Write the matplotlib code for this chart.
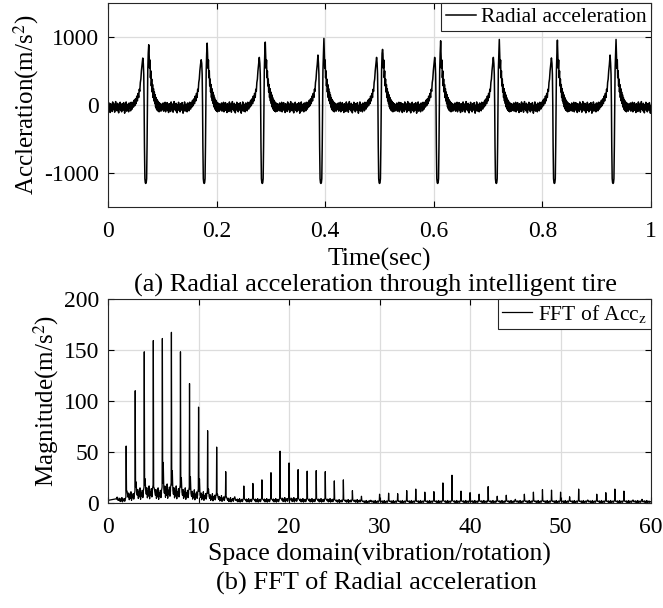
import numpy as np
import matplotlib.pyplot as plt

plt.rcParams['font.family'] = ['Liberation Serif', 'DejaVu Serif']
plt.rcParams['mathtext.fontset'] = 'stix'
plt.rcParams['axes.unicode_minus'] = False

# ---------------- datos (a): aceleracion radial ----------------
t_pulsos = [0.0694, 0.177, 0.284, 0.392, 0.500, 0.607, 0.715, 0.822, 0.930]
pico_previo = [688, 663, 698, 732, 698, 698, 698, 690, 732]
pico_post = [883, 907, 922, 976, 815, 941, 961, 951, 961]

forma_dt = [-0.0250, -0.0238, -0.0226, -0.0214, -0.0202, -0.0190, -0.0178, -0.0166,
            -0.0154, -0.0142, -0.0130, -0.0120, -0.0110, -0.0100, -0.0090, -0.0080,
            -0.0068, -0.0055, -0.0045, -0.0037, -0.0030, -0.0024, -0.0016, -0.0008,
            0.0, 0.0008, 0.0016, 0.0024, 0.0030, 0.0037, 0.0046, 0.0055,
            0.0062, 0.0070, 0.0078, 0.0086, 0.0094, 0.0102, 0.0110, 0.0118,
            0.0126, 0.0134, 0.0142, 0.0150, 0.0158, 0.0166, 0.0174, 0.0182,
            0.0190, 0.0198, 0.0206, 0.0214, 0.0222, 0.0230, 0.0238, 0.0246,
            0.0254, 0.0262, 0.0270, 0.0280, 0.0290, 0.0300]
forma_val = [-60, 40, -30, 70, -10, 90, 20, 130,
             60, 170, 110, 230, 200, 330, 380, 500,
             590, 'pre', 610, 450, 0, -600, -1080, -1140,
             -1150, -1140, -1080, -600, 0, 500, 760, 'post',
             760, 540, 660, 400, 500, 280, 380, 190,
             300, 110, 240, 60, 190, 20, 150, -30,
             110, -60, 80, -80, 60, -90, 40, -100,
             30, -80, 20, -90, 10, -70]

# ruido de fondo entre pulsos
ruido = [-30, 30, -90, 0, -60, 40, -100, -10, -50, 35, -80, -20, -110, 20, -45, -5,
         -95, 45, -25, -70, 15, -105, -20, 50, -65, -5, -85, 25, -40, -115, 5, -55,
         40, -80, -15, -100, 20, -35, -75, 35, -20, -120, -5, -60, 45, -90, -30, 10,
         -55, -100, 30, -45, -10, -85, 40, -40]

# ---------------- datos (b): FFT ----------------
armonicos = list(range(1, 60))
pico_fft = [4, 56, 110, 148, 159, 161, 167, 148, 117, 94,
            71, 55, 31, 6.5, 17, 19.5, 23, 30, 51, 39.5,
            33, 31.5, 32, 31, 22, 23, 12.5, 7, 2, 9,
            10, 9.5, 12.5, 14, 11, 11.5, 20, 27.5, 12, 10.5,
            9, 16.4, 7, 8, 4, 9, 11, 13.5, 13, 11,
            6.5, 14, 3.3, 9, 10.5, 14, 12, 3.3, 4]
lateral_fft = [3, 12, 21, 24, 15, 40, 32, 25, 26, 24,
               14, 9, 6, 3, 4, 4, 4, 4, 5, 5,
               4, 4, 4, 4, 3, 3, 2.5, 2, 1.5, 2,
               2, 2, 2, 2, 2, 2, 2.5, 2.5, 2, 2,
               2, 2, 2, 2, 1.5, 2, 2, 2, 2, 2,
               2, 2, 1.5, 2, 2, 2, 2, 1.5, 1.5]
fondo_fft = [3, 6, 8, 9, 8, 10, 9, 8, 7, 6,
             5, 4, 3, 2.5, 2.5, 2.5, 2.5, 2.5, 3, 3,
             2.5, 2.5, 2.5, 2.5, 2, 2, 2, 1.5, 1.5, 1.5,
             1.5, 1.5, 1.5, 1.5, 1.5, 1.5, 1.5, 1.5, 1.5, 1.5,
             1.5, 1.5, 1.5, 1.5, 1.5, 1.5, 1.5, 1.5, 1.5, 1.5,
             1.5, 1.5, 1.5, 1.5, 1.5, 1.5, 1.5, 1.5, 1.5]
# textura del fondo entre armonicos (factor sobre el fondo)
rizado = [1.0, 1.7, 0.6, 1.4, 0.8, 1.9, 0.5, 1.3, 0.9, 1.6, 0.7, 1.2]


def senal_tiempo():
    periodo = (t_pulsos[-1] - t_pulsos[0]) / (len(t_pulsos) - 1)
    tiempos = [t_pulsos[0] - periodo] + t_pulsos + [t_pulsos[-1] + periodo]
    t_total, a_total = [], []
    for k in range(1, len(tiempos)):
        # tramo de ruido
        t_ini = tiempos[k - 1] + 0.031
        t_fin = tiempos[k] - 0.026
        t_total += list(np.linspace(t_ini, t_fin, len(ruido)))
        a_total += ruido
        if k == len(tiempos) - 1:
            break
        i = k - 1
        for dt, v in zip(forma_dt, forma_val):
            if v == 'pre':
                v = pico_previo[i]
            elif v == 'post':
                v = pico_post[i]
            t_total.append(tiempos[k] + dt)
            a_total.append(v)
    return t_total, a_total


def espectro():
    x, y = [0.0], [fondo_fft[0]]
    for j, h in enumerate(armonicos):
        fondo_prev = fondo_fft[j - 1] if j > 0 else fondo_fft[0]
        x += [h - 0.1, h - 0.03, h, h + 0.04, h + 0.1, h + 0.16]
        y += [fondo_prev * 1.5, fondo_prev * 2, pico_fft[j],
              fondo_fft[j] * 2, lateral_fft[j], fondo_fft[j] * 1.4]
        # relleno rugoso hasta el siguiente armonico
        xs = np.linspace(h + 0.22, h + 0.9, len(rizado))
        x += list(xs)
        y += [fondo_fft[j] * r for r in rizado]
    x.append(60)
    y.append(fondo_fft[-1])
    return x, y


def estilo_ejes(ax):
    ax.tick_params(direction='in', top=True, right=True, length=4, labelsize=17,
                   colors='black', width=0.8)
    ax.tick_params(axis='x', pad=10)
    ax.tick_params(axis='y', pad=6.5)
    ax.grid(True, color='#dcdcdc', linewidth=0.9)
    ax.set_axisbelow(True)
    for s in ax.spines.values():
        s.set_linewidth(0.8)
        s.set_color('#262626')


def leyenda(ax):
    leg = ax.legend(loc='upper right', fontsize=15.5, fancybox=False, framealpha=1,
                    edgecolor='#262626', handlelength=1.4, handletextpad=0.25,
                    borderpad=0.2, borderaxespad=0)
    leg.get_frame().set_linewidth(0.8)


fig = plt.figure(figsize=(6.63, 6.08), dpi=100)

ax1 = fig.add_axes([0.163, 0.659, 0.819, 0.3366])
t, a = senal_tiempo()
ax1.plot(t, a, color='black', linewidth=1.1, label='Radial acceleration')
ax1.set_xlim(0, 1)
ax1.set_ylim(-1500, 1500)
ax1.set_xticks([0, 0.2, 0.4, 0.6, 0.8, 1])
ax1.set_xticklabels(['0', '0.2', '0.4', '0.6', '0.8', '1'])
ax1.set_yticks([-1000, 0, 1000])
estilo_ejes(ax1)
ax1.set_xlabel('Time(sec)', fontsize=18.5, labelpad=4)
ax1.set_ylabel('Accleration(m/s$^2$)', fontsize=18, labelpad=2)
leyenda(ax1)
fig.text(0.567, 1 - 285 / 608, '(a) Radial acceleration through intelligent tire',
         ha='center', va='center', fontsize=19)

ax2 = fig.add_axes([0.163, 0.172, 0.819, 0.337])
xf, yf = espectro()
ax2.plot(xf, yf, color='black', linewidth=0.9, label='FFT of Acc$_\\mathrm{z}$')
ax2.set_xlim(0, 60)
ax2.set_ylim(0, 200)
ax2.set_xticks(range(0, 61, 10))
ax2.set_yticks(range(0, 201, 50))
estilo_ejes(ax2)
ax2.set_xlabel('Space domain(vibration/rotation)', fontsize=18.5, labelpad=3)
ax2.set_ylabel('Magnitude(m/s$^2$)', fontsize=18, labelpad=2)
leyenda(ax2)
fig.text(0.567, 1 - 583 / 608, '(b) FFT of Radial acceleration',
         ha='center', va='center', fontsize=19)

fig.savefig('out.png', dpi=100)
